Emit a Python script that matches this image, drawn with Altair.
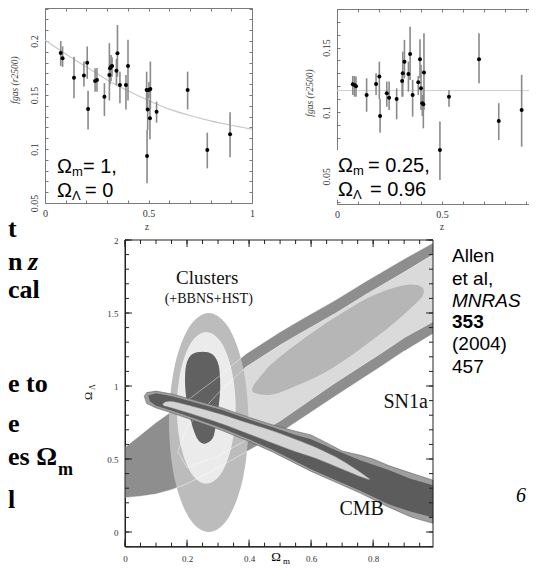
import altair as alt
import pandas as pd

W, H = 521, 560

# ---------------- top-left panel: Omega_m = 1, Omega_L = 0 ----------------
Z1 = [0.076, 0.085, 0.140, 0.188, 0.204, 0.208, 0.242, 0.251, 0.287, 0.311, 0.314, 0.319, 0.324, 0.345,
      0.350, 0.362, 0.391, 0.401, 0.491, 0.496, 0.502, 0.509, 0.507, 0.539, 0.493, 0.689, 0.784, 0.894]
F1 = [0.189, 0.184, 0.166, 0.168, 0.180, 0.137, 0.163, 0.164, 0.1485, 0.1685, 0.1747, 0.1762, 0.1768, 0.1725,
      0.1886, 0.1593, 0.1593, 0.1768, 0.1546, 0.1367, 0.1546, 0.1555, 0.1284, 0.1346, 0.0935, 0.1546, 0.0991, 0.1136]
LO1 = [0.177, 0.176, 0.147, 0.158, 0.165, 0.118, 0.153, 0.153, 0.1306, 0.145, 0.160, 0.163, 0.167, 0.159,
       0.167, 0.1423, 0.1367, 0.145, 0.1367, 0.1176, 0.147, 0.137, 0.109, 0.1244, 0.0682, 0.1367, 0.0821, 0.0923]
HI1 = [0.200, 0.195, 0.1855, 0.181, 0.195, 0.154, 0.1747, 0.175, 0.161, 0.198, 0.181, 0.187, 0.185, 0.1835,
       0.2148, 0.1716, 0.1685, 0.2012, 0.1716, 0.1546, 0.162, 0.181, 0.1454, 0.1439, 0.1176, 0.1716, 0.1151, 0.134]
CURVE_Z = [0.0, 0.1, 0.2, 0.3, 0.4, 0.5, 0.6, 0.7, 0.8, 0.9, 1.0]
CURVE_F = [0.201, 0.188, 0.176, 0.164, 0.154, 0.145, 0.137, 0.131, 0.126, 0.122, 0.1185]

# ---------------- top-right panel: Omega_m = 0.25, Omega_L = 0.96 ----------------
Z2 = [0.075, 0.083, 0.0905, 0.141, 0.186, 0.2016, 0.205, 0.237, 0.248, 0.284, 0.31, 0.313, 0.321, 0.34,
      0.348, 0.36, 0.387, 0.395, 0.40, 0.406, 0.411, 0.414, 0.49, 0.533, 0.676, 0.77, 0.879]
F2 = [0.1215, 0.121, 0.120, 0.1132, 0.1218, 0.1275, 0.0969, 0.1145, 0.1111, 0.1101, 0.1241, 0.1301, 0.1391, 0.1295,
      0.1451, 0.1132, 0.1231, 0.141, 0.1184, 0.1068, 0.106, 0.1306, 0.0705, 0.1119, 0.141, 0.093, 0.1016]
LO2 = [0.1132, 0.1119, 0.1119, 0.1002, 0.1132, 0.1101, 0.0839, 0.1041, 0.1016, 0.0943, 0.1119, 0.1119, 0.1262, 0.1158,
       0.1249, 0.0964, 0.1132, 0.1262, 0.1016, 0.0969, 0.0873, 0.1016, 0.0471, 0.1041, 0.1223, 0.0782, 0.073]
HI2 = [0.128, 0.128, 0.1275, 0.1262, 0.1301, 0.1391, 0.1101, 0.1236, 0.1236, 0.1184, 0.131, 0.1469, 0.156, 0.1391,
       0.1663, 0.1249, 0.128, 0.1565, 0.1366, 0.1132, 0.1171, 0.1612, 0.0925, 0.1171, 0.1612, 0.1068, 0.1288]
FLAT_F = [0.1166]

# ---------------- bottom panel: confidence contours (Omega_m, Omega_L) ----------------
SN_OUT = [(0.0, 0.58), (0.05, 0.665), (0.1, 0.75), (0.2, 0.90), (0.3, 1.06), (0.39, 1.22), (0.5, 1.37),
          (0.564, 1.45), (0.68, 1.59), (0.779, 1.72), (0.9, 1.87), (0.993, 1.98), (0.993, 1.36), (0.9, 1.24),
          (0.83, 1.14), (0.67, 0.92), (0.5, 0.68), (0.4, 0.56), (0.3, 0.44), (0.2, 0.33), (0.15, 0.29),
          (0.1, 0.26), (0.05, 0.245), (0.0, 0.235)]
SN_MID = [(0.17, 0.55), (0.2, 0.72), (0.3, 0.95), (0.39, 1.13), (0.5, 1.28), (0.564, 1.36),
          (0.68, 1.50), (0.779, 1.63), (0.9, 1.78), (0.993, 1.90), (0.993, 1.44), (0.9, 1.33), (0.83, 1.23),
          (0.67, 1.01), (0.5, 0.76), (0.4, 0.64), (0.3, 0.52), (0.2, 0.44)]
SN_IN = [(0.41, 0.97), (0.45, 1.10), (0.5, 1.20), (0.6, 1.36), (0.7, 1.50), (0.8, 1.62), (0.9, 1.69),
         (0.955, 1.68), (0.96, 1.62), (0.92, 1.53), (0.85, 1.40), (0.75, 1.24), (0.65, 1.10), (0.55, 1.00),
         (0.47, 0.94)]
CL_OUT = [(0.27, 1.50), (0.334, 1.40), (0.381, 1.125), (0.398, 0.75), (0.381, 0.375), (0.334, 0.10),
          (0.27, 0.0), (0.206, 0.10), (0.159, 0.375), (0.142, 0.75), (0.159, 1.125), (0.206, 1.40)]
CL_MID = [(0.262, 1.37), (0.31, 1.30), (0.344, 1.11), (0.357, 0.85), (0.344, 0.59), (0.31, 0.40),
          (0.262, 0.33), (0.214, 0.40), (0.18, 0.59), (0.167, 0.85), (0.18, 1.11), (0.214, 1.30)]
CL_IN = [(0.25, 1.235), (0.283, 1.215), (0.302, 1.14), (0.307, 1.0), (0.302, 0.86), (0.292, 0.72),
         (0.282, 0.64), (0.258, 0.605), (0.236, 0.63), (0.218, 0.72), (0.202, 0.86), (0.194, 1.0),
         (0.197, 1.14), (0.215, 1.215)]
CMB_OUT = [(0.062, 0.93), (0.07, 0.955), (0.10, 0.965), (0.152, 0.945), (0.22, 0.905), (0.313, 0.85),
           (0.40, 0.785), (0.474, 0.735), (0.55, 0.69), (0.60, 0.665), (0.66, 0.60), (0.70, 0.555),
           (0.73, 0.54), (0.76, 0.525), (0.80, 0.50), (0.85, 0.455), (0.92, 0.405), (0.993, 0.355),
           (0.993, 0.06), (0.95, 0.085), (0.92, 0.105), (0.85, 0.17), (0.76, 0.265), (0.68, 0.34),
           (0.60, 0.415), (0.474, 0.55), (0.40, 0.62), (0.313, 0.695), (0.22, 0.765), (0.152, 0.815),
           (0.10, 0.85), (0.07, 0.88)]
CMB_MID = [(0.075, 0.935), (0.10, 0.95), (0.152, 0.93), (0.22, 0.89), (0.313, 0.835), (0.40, 0.77),
           (0.474, 0.72), (0.55, 0.665), (0.60, 0.635), (0.68, 0.56), (0.76, 0.49), (0.85, 0.425),
           (0.92, 0.365), (0.993, 0.32), (0.993, 0.10), (0.92, 0.14), (0.85, 0.19), (0.76, 0.28),
           (0.68, 0.355), (0.60, 0.43), (0.474, 0.565), (0.40, 0.635), (0.313, 0.71), (0.22, 0.78),
           (0.152, 0.83), (0.10, 0.865), (0.08, 0.895)]
CMB_IN = [(0.125, 0.885), (0.15, 0.895), (0.22, 0.86), (0.313, 0.805), (0.40, 0.745), (0.474, 0.695),
          (0.55, 0.635), (0.62, 0.575), (0.70, 0.49), (0.785, 0.37), (0.77, 0.37), (0.70, 0.43),
          (0.62, 0.50), (0.55, 0.55), (0.474, 0.61), (0.40, 0.67), (0.313, 0.74), (0.22, 0.805),
          (0.15, 0.85), (0.125, 0.865)]
OM_DOM = [0.0, 0.993]
OL_DOM = [-0.1, 2.0]
OM_MAJOR = [0, 0.2, 0.4, 0.6, 0.8]
OL_MAJOR = [0, 0.5, 1, 1.5, 2]

SERIF = "Liberation Serif"
SANS = "Liberation Sans"


def sc(dom, rng):
    return alt.Scale(domain=dom, range=rng, nice=False, zero=False)


def lab_axis(orient, offset, values, color, size, **kw):
    return alt.Axis(orient=orient, offset=offset, values=values, ticks=False, tickSize=0, labels=True,
                    domain=True, domainColor=color, grid=False, title=None, format="~g",
                    labelFont=SERIF, labelFontSize=size, labelColor="#333", labelOverlap=False,
                    labelFlush=False, **kw)


def tick_axis(orient, offset, values, domain, color, size=4):
    return alt.Axis(orient=orient, offset=offset, values=values, ticks=True, tickSize=size, tickColor=color,
                    labels=False, domain=domain, domainColor=color, grid=False, title=None)


def steps(a, b, s):
    n = int(round((b - a) / s))
    return [round(a + s * k, 4) for k in range(n + 1)]


def txt(text, x, y, size, font=SERIF, align="left", baseline="alphabetic", angle=0,
        weight="normal", style="normal", color="black"):
    return alt.Chart(pd.DataFrame({"d": [0]})).mark_text(
        text=text, font=font, fontSize=size, align=align, baseline=baseline, angle=angle,
        fontWeight=weight, fontStyle=style, color=color
    ).encode(x=alt.value(x), y=alt.value(y))


layers = []

# ---------- panel 1 ----------
G1 = "#7a7a7a"
X1 = sc([0, 1], [37, 244])
Y1 = sc([0.05, 0.2306], [195, 0])
d1 = pd.DataFrame({"z": Z1, "f": F1, "lo": LO1, "hi": HI1})
c1 = pd.DataFrame({"z": CURVE_Z, "f": CURVE_F})
layers.append(alt.Chart(c1).mark_line(color="#c8c8c8", strokeWidth=1.2, interpolate="monotone").encode(
    x=alt.X("z:Q", scale=X1, axis=tick_axis("top", -195, steps(0, 1, 0.1), False, G1, 3)),
    y=alt.Y("f:Q", scale=Y1, axis=tick_axis("left", -244, steps(0.05, 0.23, 0.01), True, G1, 3))))
layers.append(alt.Chart(d1).mark_rule(color="#8a8a8a", strokeWidth=1.6).encode(
    x=alt.X("z:Q", scale=X1, axis=lab_axis("bottom", 195 - H, [0, 0.5, 1], G1, 10, labelPadding=5)),
    y=alt.Y("lo:Q", scale=Y1, axis=lab_axis("left", -37, [0.05, 0.1, 0.15, 0.2], G1, 10, labelAngle=270,
                                             labelAlign="center", labelBaseline="bottom", labelPadding=6)),
    y2="hi:Q"))
layers.append(alt.Chart(d1).mark_circle(color="black", size=16, opacity=1).encode(
    x=alt.X("z:Q", scale=X1, axis=tick_axis("bottom", -H, steps(0, 1, 0.1), True, G1, 3)),
    y=alt.Y("f:Q", scale=Y1, axis=tick_axis("right", 37 - W, steps(0.05, 0.23, 0.01), False, G1, 3))))

# ---------- panel 2 ----------
X2 = sc([0, 0.914], [329, 521])
Y2 = sc([0.0285, 0.180], [196, 1])
d2 = pd.DataFrame({"z": Z2, "f": F2, "lo": LO2, "hi": HI2})
h2 = pd.DataFrame({"f": FLAT_F})
layers.append(alt.Chart(h2).mark_rule(color="#cfcfcf", strokeWidth=1).encode(
    y=alt.Y("f:Q", scale=Y2, axis=None),
    x=alt.value(329), x2=alt.value(W)))
layers.append(alt.Chart(d2).mark_rule(color="#8a8a8a", strokeWidth=1.6).encode(
    x=alt.X("z:Q", scale=X2, axis=lab_axis("bottom", 196 - H, [0, 0.5], G1, 10, labelPadding=5)),
    y=alt.Y("lo:Q", scale=Y2, axis=lab_axis("left", -329, [0.05, 0.1, 0.15], G1, 10, labelAngle=270,
                                             labelAlign="center", labelBaseline="bottom", labelPadding=6)),
    y2="hi:Q"))
layers.append(alt.Chart(d2).mark_circle(color="black", size=16, opacity=1).encode(
    x=alt.X("z:Q", scale=X2, axis=tick_axis("bottom", 1 - H, steps(0, 0.9, 0.1), True, G1, 3)),
    y=alt.Y("f:Q", scale=Y2, axis=tick_axis("right", 329 - W, steps(0.03, 0.18, 0.01), False, G1, 3))))
layers.append(alt.Chart(d2).mark_point(opacity=0).encode(
    x=alt.X("z:Q", scale=X2, axis=tick_axis("top", -196, steps(0, 0.9, 0.1), False, G1, 3)),
    y=alt.Y("f:Q", scale=Y2, axis=None)))
# white box behind the cosmology annotation (it hides the axis line, as on the slide)
layers.append(alt.Chart(pd.DataFrame({"a": [-0.006], "b": [0.47], "c": [0.0318], "e": [0.0705]}))
              .mark_rect(color="white").encode(
    x=alt.X("a:Q", scale=X2, axis=None), x2="b:Q",
    y=alt.Y("c:Q", scale=Y2, axis=None), y2="e:Q"))

# ---------- panel 3 ----------
G3 = "#222222"
X3 = sc(OM_DOM, [117, 425])
Y3 = sc(OL_DOM, [538.6, 232])


def pdf(pts):
    return pd.DataFrame({"m": [p[0] for p in pts], "L": [p[1] for p in pts], "i": list(range(len(pts)))})


def poly(pts, color, interp, xax=None, yax=None, stroke=None):
    kw = dict(filled=True, color=color, interpolate=interp, strokeWidth=0)
    if stroke:
        kw.update(stroke=stroke, strokeWidth=0.5)
    return alt.Chart(pdf(pts)).mark_line(**kw).encode(
        x=alt.X("m:Q", scale=X3, axis=xax), y=alt.Y("L:Q", scale=Y3, axis=yax), order="i:Q")


def outline(pts, interp, color="white", width=0.8, opacity=0.55):
    return alt.Chart(pdf(pts)).mark_line(color=color, strokeWidth=width, opacity=opacity,
                                         interpolate=interp).encode(
        x=alt.X("m:Q", scale=X3, axis=None), y=alt.Y("L:Q", scale=Y3, axis=None), order="i:Q")


layers.append(poly(SN_OUT, "#8e8e8e", "linear-closed",
                   lab_axis("bottom", 538.6 - H, OM_MAJOR, G3, 9, labelPadding=8),
                   lab_axis("left", -117, OL_MAJOR, G3, 9, labelPadding=7)))
layers.append(poly(SN_MID, "#dadada", "linear-closed"))
layers.append(poly(SN_IN, "#b6b6b6", "cardinal-closed"))
layers.append(poly(CL_OUT, "#bcbcbc", "cardinal-closed"))
layers.append(poly(CL_MID, "#ebebeb", "cardinal-closed"))
layers.append(poly(CL_IN, "#616161", "cardinal-closed"))
layers.append(outline(SN_OUT[:12], "linear"))
layers.append(outline(SN_OUT[13:], "linear"))
layers.append(outline(SN_MID, "linear-closed"))
layers.append(poly(CMB_OUT, "#9e9e9e", "linear-closed", stroke="#555555"))
layers.append(poly(CMB_MID, "#5c5c5c", "linear-closed"))
layers.append(poly(CMB_IN, "#d4d4d4", "cardinal-closed", stroke="#777777"))

# frame of the contour panel, drawn through the panel scales at the domain limits
m0, m1 = OM_DOM
l0, l1 = OL_DOM
frame = [(m0, l0), (m1, l0), (m1, l1), (m0, l1), (m0, l0)]
layers.append(outline(frame, "linear", color=G3, width=1, opacity=1))

# inward ticks: 4 / 7 px long, expressed in data units of the panel
dxm, dxM = 4 / 310.2, 7 / 310.2
dym, dyM = 4 / 146.0, 7 / 146.0
for vals, lx, ly in ((steps(0, 0.95, 0.05), dxm, dym), (OM_MAJOR, dxM, dyM)):
    for a, b in ((l1, l1 - ly), (l0, l0 + ly)):
        df = pd.DataFrame({"v": vals, "a": a, "b": b})
        layers.append(alt.Chart(df).mark_rule(color=G3, strokeWidth=1).encode(
            x=alt.X("v:Q", scale=X3, axis=None), y=alt.Y("a:Q", scale=Y3, axis=None), y2="b:Q"))
for vals, lx in ((steps(-0.1, 2.0, 0.1), dxm), (OL_MAJOR, dxM)):
    for a, b in ((m0, m0 + lx), (m1, m1 - lx)):
        df = pd.DataFrame({"v": vals, "a": a, "b": b})
        layers.append(alt.Chart(df).mark_rule(color=G3, strokeWidth=1).encode(
            y=alt.Y("v:Q", scale=Y3, axis=None), x=alt.X("a:Q", scale=X3, axis=None), x2="b:Q"))

LABELS3 = [("Clusters", 0.265, 1.74, 19), ("(+BBNS+HST)", 0.27, 1.595, 14),
           ("SN1a", 0.905, 0.89, 20), ("CMB", 0.763, 0.16, 20)]
for t, m, l, s in LABELS3:
    layers.append(alt.Chart(pd.DataFrame({"m": [m], "L": [l]})).mark_text(
        text=t, font=SERIF, fontSize=s, color="#111", baseline="middle").encode(
        x=alt.X("m:Q", scale=X3, axis=None), y=alt.Y("L:Q", scale=Y3, axis=None)))

# ---------- axis titles ----------
layers += [
    txt("fgas (r2500)", 7, 72, 9.5, style="italic", angle=270, align="center", baseline="middle", color="#444"),
    txt("fgas (r2500)", 302, 85, 9.5, style="italic", angle=270, align="center", baseline="middle", color="#444"),
    txt("z", 139, 222, 10, align="center", color="#444"),
    txt("z", 434, 222, 10, align="center", color="#444"),
    txt("Ω", 268, 553, 13, align="center"),
    txt("m", 275, 556, 9, align="left"),
    txt("Ω", 81, 388, 11, angle=270, align="center", baseline="middle"),
    txt("Λ", 85, 379, 8, angle=270, align="center", baseline="middle"),
]

# ---------- in-panel annotations ----------
layers += [
    txt("Ω", 49, 165, 20, font=SANS), txt("m", 64, 168, 13, font=SANS), txt("= 1,", 75, 165, 20, font=SANS),
    txt("Ω", 49, 189, 20, font=SANS), txt("Λ", 64, 192, 13, font=SANS), txt("= 0", 77, 189, 20, font=SANS),
    txt("Ω", 330, 164, 20, font=SANS), txt("m", 345, 167, 13, font=SANS), txt("= 0.25,", 360, 164, 20, font=SANS),
    txt("Ω", 330, 188, 20, font=SANS), txt("Λ", 345, 191, 13, font=SANS), txt("= 0.96", 362, 188, 20, font=SANS),
]

# ---------- slide text (left edge) ----------
B = dict(weight="bold", size=26)
layers += [
    txt("t", 0, 229, **B),
    txt("n", 0, 262, **B),
    txt("z", 20, 262, 26, weight="bold", style="italic"),
    txt("cal", 0, 290, **B),
    txt("e to", 0, 384, **B),
    txt("e", 0, 424, **B),
    txt("es Ω", 0, 457, **B),
    txt("m", 50, 467, 18, weight="bold"),
    txt("l", 0, 500, **B),
]

# ---------- reference text (right) ----------
layers += [
    txt("Allen", 444, 254, 19, font=SANS),
    txt("et al,", 444, 277, 19, font=SANS),
    txt("MNRAS", 444, 299, 19, font=SANS, style="italic"),
    txt("353", 444, 320, 19, font=SANS, weight="bold"),
    txt("(2004)", 444, 342, 19, font=SANS),
    txt("457", 444, 365, 19, font=SANS),
    txt("6", 513, 494, 20, style="italic", align="center"),
]

chart = alt.layer(*layers).resolve_scale(x="independent", y="independent").properties(
    width=W, height=H, padding=0, autosize=alt.AutoSizeParams(type="none")
).configure_view(stroke=None)

chart.save("out.html", embed_options={"renderer": "svg", "actions": False})
